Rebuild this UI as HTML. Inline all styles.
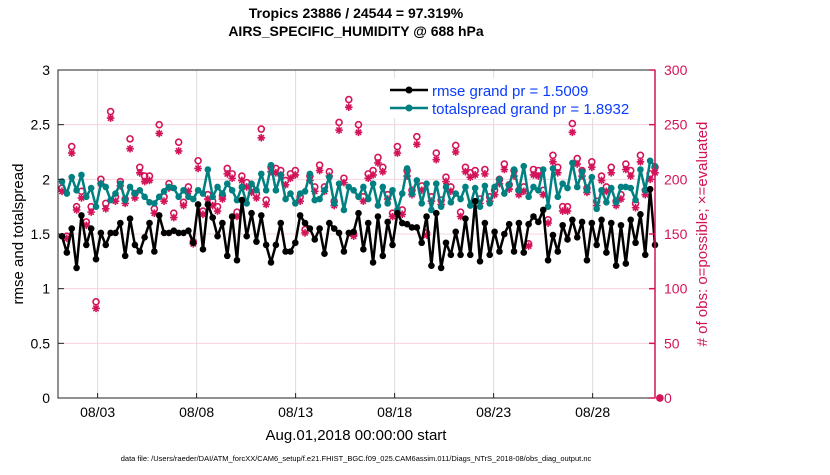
<!DOCTYPE html>
<html><head><meta charset="utf-8"><style>
body{margin:0;background:#fff;width:830px;height:470px;overflow:hidden;font-family:"Liberation Sans",sans-serif}
</style></head><body>
<svg id="chart" width="830" height="470" xmlns="http://www.w3.org/2000/svg" font-family="Liberation Sans, sans-serif">
<text x="356" y="18" text-anchor="middle" font-size="14" font-weight="bold">Tropics 23886 / 24544 = 97.319%</text>
<text x="356" y="36" text-anchor="middle" font-size="14" font-weight="bold">AIRS_SPECIFIC_HUMIDITY @ 688 hPa</text>
<g id="grid"></g>
<g id="series"></g>
<rect x="58" y="70" width="597" height="328" fill="none" stroke="#222" stroke-width="1"/>
<g id="axes"></g>
<text transform="translate(23,234) rotate(-90)" text-anchor="middle" font-size="15">rmse and totalspread</text>
<text transform="translate(707,234) rotate(-90)" text-anchor="middle" font-size="15" fill="#d4145a"># of obs: o=possible; ×=evaluated</text>
<text x="356" y="440" text-anchor="middle" font-size="15">Aug.01,2018 00:00:00 start</text>
<text x="356" y="461" text-anchor="middle" font-size="7.5">data file: /Users/raeder/DAI/ATM_forcXX/CAM6_setup/f.e21.FHIST_BGC.f09_025.CAM6assim.011/Diags_NTrS_2018-08/obs_diag_output.nc</text>
<g>
<rect x="384" y="78" width="268" height="40" fill="#fff"/>
<line x1="390" y1="90" x2="428" y2="90" stroke="#000" stroke-width="2.5"/><circle cx="409" cy="90" r="3.5" fill="#000"/>
<text x="432" y="96" font-size="15" fill="#0a3cff">rmse grand pr = 1.5009</text>
<line x1="390" y1="108" x2="428" y2="108" stroke="#008080" stroke-width="2.5"/><circle cx="409" cy="108" r="3.5" fill="#008080"/>
<text x="432" y="114" font-size="15" fill="#0a3cff">totalspread grand pr = 1.8932</text>
</g>
</svg>
<script>
const dateTicks=["08/03","08/08","08/13","08/18","08/23","08/28"];
const dateTickDays=[2,7,12,17,22,27];
const leftTicks=[0,0.5,1,1.5,2,2.5,3];
const rightTicks=[0,50,100,150,200,250,300];
const rmse=[1.48,1.33,1.55,1.19,1.67,1.40,1.55,1.27,1.51,1.40,1.51,1.51,1.60,1.30,1.64,1.40,1.34,1.47,1.60,1.34,1.67,1.51,1.51,1.53,1.51,1.51,1.53,1.42,1.77,1.36,1.77,1.65,
1.48,1.60,1.30,1.66,1.26,1.81,1.48,1.69,1.43,1.67,1.40,1.24,1.40,1.60,1.34,1.34,1.42,1.67,1.60,1.55,1.45,1.55,1.32,1.60,1.55,1.51,1.34,1.51,1.52,1.69,
1.36,1.60,1.24,1.66,1.30,1.61,1.40,1.69,1.60,1.59,1.56,1.56,1.42,1.66,1.21,1.69,1.19,1.42,1.31,1.52,1.31,1.64,1.31,1.80,1.25,1.60,1.31,1.52,1.34,1.50,1.59,
1.34,1.60,1.33,1.59,1.66,1.61,1.72,1.26,1.49,1.34,1.58,1.45,1.63,1.47,1.61,1.26,1.60,1.40,1.63,1.33,1.60,1.21,1.58,1.23,1.63,1.42,1.68,1.31,1.91,1.40];
const spread=[1.98,1.87,2.02,1.90,2.04,1.84,1.92,1.75,1.96,1.93,1.81,1.87,1.96,1.81,1.93,1.87,1.90,1.84,1.79,1.78,1.84,1.89,1.93,1.92,1.84,1.90,1.84,1.82,1.90,1.87,2.09,1.84,
1.93,1.87,1.96,1.90,1.81,1.93,1.78,1.96,1.90,2.05,1.90,2.13,1.90,2.04,1.82,1.87,1.78,1.87,1.89,2.05,1.81,1.82,1.90,2.02,1.78,1.96,1.72,1.93,1.90,1.84,
1.93,1.82,1.96,1.76,1.93,1.78,1.90,1.72,1.87,2.10,1.87,1.99,1.78,1.96,1.72,1.96,1.75,1.93,1.79,1.87,1.82,1.93,1.76,1.92,1.75,1.94,1.78,1.93,2.00,1.87,1.95,
2.09,1.90,2.12,1.84,1.93,1.90,2.09,1.75,2.10,1.84,1.96,1.92,2.15,1.93,2.07,1.90,2.02,1.73,1.90,1.79,1.92,1.79,1.93,1.93,1.92,1.81,2.09,1.90,2.17,2.12];
const obsPossible=[192,148,230,175,189,161,175,88,200,178,262,184,198,182,237,187,211,203,203,173,250,184,196,169,234,179,193,143,217,171,186,180,
175,185,210,205,170,203,197,193,187,246,181,211,210,208,199,205,208,184,154,203,193,213,193,207,180,252,201,273,150,250,
184,205,208,220,211,186,169,230,172,208,190,239,194,151,184,224,181,202,193,231,170,211,206,208,182,209,184,190,200,214,195,
208,190,193,141,209,208,190,163,222,211,175,175,251,219,208,192,216,180,203,193,211,180,186,214,208,178,222,190,205,211,0];
const obsEvaluated=[189,146,224,172,183,158,170,82,196,173,256,180,194,178,228,183,206,198,199,169,242,180,192,165,226,176,189,141,210,168,182,176,
171,182,205,201,166,199,193,188,183,238,177,207,206,204,195,201,204,180,151,199,189,208,189,203,176,245,197,266,148,243,
180,201,204,215,207,182,166,224,168,203,186,232,190,149,180,218,177,198,189,225,166,207,202,204,178,205,180,186,196,209,191,
203,186,189,139,204,203,186,160,216,206,171,171,243,214,203,188,211,176,199,189,206,176,182,209,203,174,216,186,200,206,0];

const X0=58,X1=655,Y0=398,Y1=70,N=rmse.length;
const xi=i=>X0+4+i*(593/(N-1));
const xd=d=>X0+d*(597/30.15);
const yl=v=>Y0-v*(Y0-Y1)/3;
const yr=v=>Y0-v*(Y0-Y1)/300;
const NS="http://www.w3.org/2000/svg";
function mk(tag,attrs,parent){const e=document.createElementNS(NS,tag);for(const k in attrs)e.setAttribute(k,attrs[k]);parent.appendChild(e);return e;}
const grid=document.getElementById('grid'),ser=document.getElementById('series'),axes=document.getElementById('axes');
dateTickDays.forEach((d,i)=>{
  const g=mk('line',{x1:xd(d),x2:xd(d),y1:Y1,y2:Y0,stroke:'#dcdcdc','stroke-width':1},grid);
  
  
  const t=mk('line',{x1:xd(d),x2:xd(d),y1:Y0,y2:Y0-5,stroke:'#222'},axes);
  
  
  const l=mk('text',{x:xd(d),y:Y0+19,'text-anchor':'middle','font-size':14},axes);
  l.textContent=dateTicks[i];
  
  
});
rightTicks.forEach(v=>{
  if(v>0&&v<300){const g=mk('line',{x1:X0,x2:X1,y1:yr(v),y2:yr(v),stroke:'#f7d3df','stroke-width':1},grid);
  
  }
  const t=mk('line',{x1:X1,x2:X1-6,y1:yr(v),y2:yr(v),stroke:'#d4145a','stroke-width':1.5},axes);
  
  
  const l=mk('text',{x:X1+9,y:yr(v)+5,'font-size':14,fill:'#d4145a'},axes);
  l.textContent=v;
  
  
});
mk('line',{x1:X1,x2:X1,y1:Y1,y2:Y0,stroke:'#d4145a','stroke-width':1.5},axes);
leftTicks.forEach(v=>{
  const t=mk('line',{x1:X0,x2:X0+6,y1:yl(v),y2:yl(v),stroke:'#222'},axes);
  
  
  const l=mk('text',{x:X0-8,y:yl(v)+5,'text-anchor':'end','font-size':14},axes);
  l.textContent=v;
  
  
});
// obs markers
obsPossible.forEach((v,i)=>{
  const c=mk('circle',{cx:xi(i),cy:yr(v),r:3,fill:'none',stroke:'#d4145a','stroke-width':1.6},ser);
  
  
});
obsEvaluated.forEach((v,i)=>{
  const x=xi(i),y=yr(v),s=3.8;
  const g=mk('path',{d:`M${x-s},${y}H${x+s}M${x},${y-s}V${y+s}M${x-s*.7},${y-s*.7}L${x+s*.7},${y+s*.7}M${x-s*.7},${y+s*.7}L${x+s*.7},${y-s*.7}`,stroke:'#d4145a','stroke-width':1.6},ser);
  
  
});
function line(arr,col,name){
  const p=mk('polyline',{points:arr.map((v,i)=>xi(i)+','+yl(v)).join(' '),fill:'none',stroke:col,'stroke-width':2.5,'stroke-linejoin':'round'},ser);
  
  
  arr.forEach((v,i)=>{
    const c=mk('circle',{cx:xi(i),cy:yl(v),r:3.3,fill:col},ser);
    
    
  });
}
line(spread,'#008080','totalspread');
line(rmse,'#000','rmse');
</script>
</body></html>
